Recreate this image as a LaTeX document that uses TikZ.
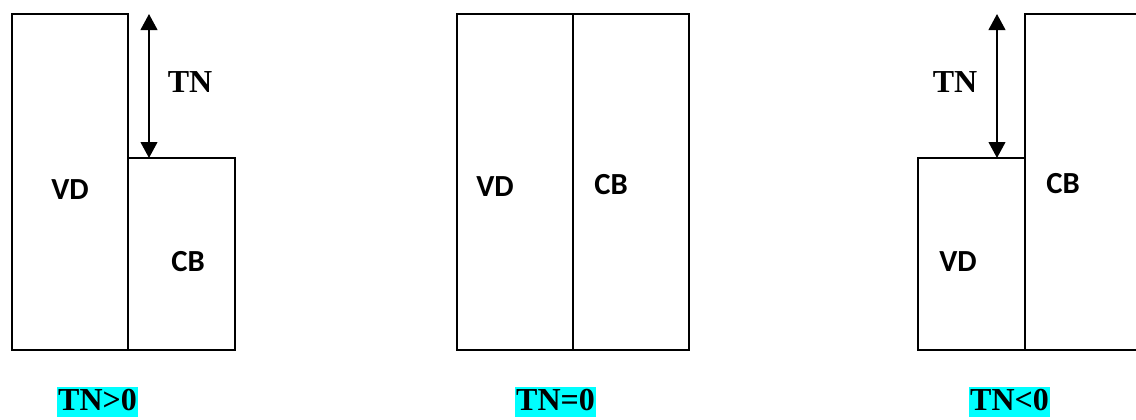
\documentclass[tikz,border=0pt]{standalone}
\usepackage{fontspec}
\setmainfont{Liberation Serif}
\newfontfamily\partfont{Carlito}
\usetikzlibrary{arrows.meta}
\definecolor{tnbg}{RGB}{0,255,255}

\tikzset{
  wall/.style={draw, line width=1.5pt},
  dimline/.style={line width=1.6pt,
    {Triangle[width=12.5pt,length=12pt]}-{Triangle[width=12.5pt,length=12pt]}},
  part/.style={font=\partfont\bfseries\fontsize{23}{27}\selectfont},
  tn/.style={font=\bfseries\fontsize{24}{28}\selectfont},
  case/.style={font=\bfseries\fontsize{24}{28}\selectfont, fill=tnbg,
    inner xsep=0.5pt, inner ysep=1pt, text height=17pt, text depth=4pt}
}

\begin{document}
\begin{tikzpicture}[x=0.75pt,y=-0.75pt]
\clip (0,0) rectangle (1136,419);

% TN > 0
\draw[wall] (12,14) rectangle (128,350);
\draw[wall] (128,158) rectangle (235,350);
\coordinate (a1top) at (149,14);
\coordinate (a1bot) at (149,158);
\draw[dimline] (a1top) -- (a1bot);
\node(tn1) at (190,82)[tn]        {TN};
\node(vd1) at (70,190)[part]      {VD};
\node(cb1) at (188,262)[part]     {CB};
\node(case1) at (97.5,402)[case]  {TN>0};

% TN = 0
\draw[wall] (457,14) rectangle (573,350);
\draw[wall] (573,14) rectangle (689,350);
\node(vd2) at (495,187)[part]     {VD};
\node(cb2) at (611,185)[part]     {CB};
\node(case2) at (555.5,402)[case] {TN=0};

% TN < 0
\draw[wall] (918,158) rectangle (1025,350);
\draw[wall] (1025,14) rectangle (1160,350);
\coordinate (a3top) at (997,14);
\coordinate (a3bot) at (997,158);
\draw[dimline] (a3top) -- (a3bot);
\node(tn3) at (955,82)[tn]        {TN};
\node(vd3) at (958,262)[part]     {VD};
\node(cb3) at (1063,184)[part]    {CB};
\node(case3) at (1009.5,402)[case] {TN<0};
\end{tikzpicture}
\end{document}
